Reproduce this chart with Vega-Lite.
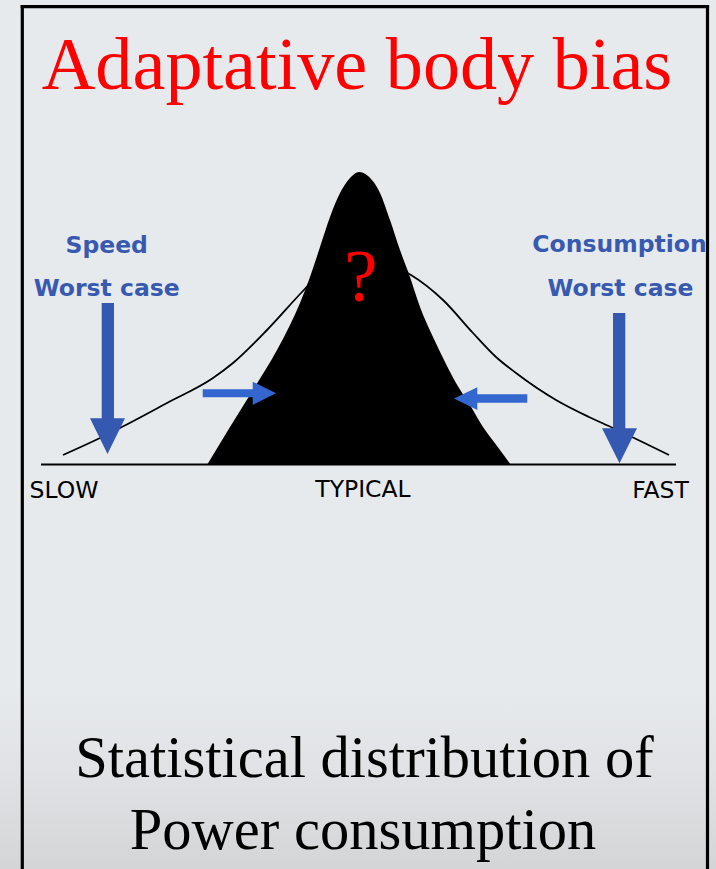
{
  "$schema": "https://vega.github.io/schema/vega-lite/v6.json",
  "width": 716,
  "height": 869,
  "autosize": {"type": "fit", "contains": "padding"},
  "padding": 0,
  "background": "#e7eaed",
  "config": {"view": {"stroke": null}},
  "datasets": {
    "backdrop": [{"x": 0, "x2": 716, "y": 690, "y2": 869}],
    "wide": [
      {"x": 63, "y": 455}, {"x": 100, "y": 438}, {"x": 120, "y": 428}, {"x": 167, "y": 403},
      {"x": 213, "y": 378}, {"x": 233, "y": 363}, {"x": 267, "y": 330}, {"x": 302, "y": 292},
      {"x": 330, "y": 264}, {"x": 357, "y": 256}, {"x": 385, "y": 263}, {"x": 411, "y": 275},
      {"x": 443, "y": 300}, {"x": 473, "y": 333}, {"x": 496, "y": 357}, {"x": 516, "y": 373},
      {"x": 556, "y": 400}, {"x": 589, "y": 417}, {"x": 613, "y": 428}, {"x": 669, "y": 455}
    ],
    "narrow": [
      {"x": 207, "y": 465}, {"x": 230, "y": 427}, {"x": 253, "y": 390}, {"x": 277, "y": 350},
      {"x": 290, "y": 325}, {"x": 300, "y": 303}, {"x": 310, "y": 277}, {"x": 320, "y": 247},
      {"x": 330, "y": 217}, {"x": 340, "y": 193}, {"x": 350, "y": 178}, {"x": 359, "y": 172},
      {"x": 368, "y": 176}, {"x": 380, "y": 193}, {"x": 390, "y": 220}, {"x": 400, "y": 250},
      {"x": 410, "y": 277}, {"x": 420, "y": 307}, {"x": 433, "y": 337}, {"x": 445, "y": 362},
      {"x": 456, "y": 383}, {"x": 470, "y": 405}, {"x": 483, "y": 427}, {"x": 497, "y": 446},
      {"x": 511, "y": 465}
    ],
    "axisline": [{"x": 41, "y": 464.5, "x2": 676, "y2": 464.5}],
    "shafts": [
      {"arrow": "speed", "kind": "big", "x": 101.7, "x2": 114, "y": 303, "y2": 419},
      {"arrow": "consumption", "kind": "big", "x": 613, "x2": 625.3, "y": 313, "y2": 429},
      {"arrow": "toRight", "kind": "small", "x": 202.7, "x2": 253.5, "y": 389.3, "y2": 397.3},
      {"arrow": "toLeft", "kind": "small", "x": 476.5, "x2": 527.3, "y": 394.3, "y2": 402.7}
    ],
    "downHeads": [
      {"arrow": "speed", "x": 90, "y": 418.3, "y2": 418.3},
      {"arrow": "speed", "x": 107.5, "y": 418.3, "y2": 454},
      {"arrow": "speed", "x": 125, "y": 418.3, "y2": 418.3},
      {"arrow": "consumption", "x": 602, "y": 428.3, "y2": 428.3},
      {"arrow": "consumption", "x": 619.5, "y": 428.3, "y2": 463.3},
      {"arrow": "consumption", "x": 637, "y": 428.3, "y2": 428.3}
    ],
    "sideHeads": [
      {"arrow": "toRight", "y": 381.7, "x": 252.7, "x2": 252.7},
      {"arrow": "toRight", "y": 393.3, "x": 252.7, "x2": 276},
      {"arrow": "toRight", "y": 405, "x": 252.7, "x2": 252.7},
      {"arrow": "toLeft", "y": 387.3, "x": 477.3, "x2": 477.3},
      {"arrow": "toLeft", "y": 398.5, "x": 454, "x2": 477.3},
      {"arrow": "toLeft", "y": 410, "x": 477.3, "x2": 477.3}
    ],
    "labels": [
      {"group": "title", "text": "Adaptative body bias", "x": 357, "y": 89},
      {"group": "mark", "text": "?", "x": 361, "y": 301},
      {"group": "blue", "text": "Speed", "x": 106.7, "y": 252.5},
      {"group": "blue", "text": "Worst case", "x": 106.7, "y": 296},
      {"group": "blue", "text": "Consumption", "x": 619.5, "y": 252},
      {"group": "blue", "text": "Worst case", "x": 620.5, "y": 296},
      {"group": "scale", "text": "SLOW", "x": 64, "y": 498},
      {"group": "scale", "text": "TYPICAL", "x": 363, "y": 497},
      {"group": "scale", "text": "FAST", "x": 660.5, "y": 498},
      {"group": "caption", "text": "Statistical distribution of", "x": 364.5, "y": 777},
      {"group": "caption", "text": "Power consumption", "x": 363, "y": 849}
    ],
    "frame": [
      {"side": "left", "x": 20.7, "x2": 23.9, "y": 5.1, "y2": 869},
      {"side": "top", "x": 20.7, "x2": 709.1, "y": 5.1, "y2": 8.3},
      {"side": "right", "x": 705.9, "x2": 709.1, "y": 5.1, "y2": 869}
    ]
  },
  "encoding": {
    "x": {"field": "x", "type": "quantitative", "scale": {"domain": [0, 716], "nice": false, "zero": false}, "axis": null},
    "y": {"field": "y", "type": "quantitative", "scale": {"domain": [0, 869], "reverse": true, "nice": false, "zero": false}, "axis": null}
  },
  "layer": [
    {
      "data": {"name": "backdrop"},
      "mark": {"type": "rect", "color": {"gradient": "linear", "x1": 0, "y1": 0, "x2": 0, "y2": 1, "stops": [{"offset": 0, "color": "#e7eaed"}, {"offset": 0.45, "color": "#e0e2e5"}, {"offset": 1, "color": "#d3d5d7"}]}},
      "encoding": {"x2": {"field": "x2"}, "y2": {"field": "y2"}}
    },
    {
      "data": {"name": "wide"},
      "mark": {"type": "line", "interpolate": "monotone", "color": "#000000", "strokeWidth": 1.8},
      "encoding": {}
    },
    {
      "data": {"name": "narrow"},
      "mark": {"type": "area", "interpolate": "monotone", "color": "#000000", "orient": "vertical"},
      "encoding": {"y2": {"datum": 465}}
    },
    {
      "data": {"name": "axisline"},
      "mark": {"type": "rule", "color": "#000000", "strokeWidth": 1.8},
      "encoding": {"x2": {"field": "x2"}, "y2": {"field": "y2"}}
    },
    {
      "data": {"name": "shafts"},
      "transform": [{"filter": "datum.kind === 'big'"}],
      "mark": {"type": "rect", "color": "#3558b0"},
      "encoding": {"x2": {"field": "x2"}, "y2": {"field": "y2"}}
    },
    {
      "data": {"name": "shafts"},
      "transform": [{"filter": "datum.kind === 'small'"}],
      "mark": {"type": "rect", "color": "#3366cf"},
      "encoding": {"x2": {"field": "x2"}, "y2": {"field": "y2"}}
    },
    {
      "data": {"name": "downHeads"},
      "mark": {"type": "area", "orient": "vertical", "color": "#3558b0"},
      "encoding": {"y2": {"field": "y2"}, "detail": {"field": "arrow"}}
    },
    {
      "data": {"name": "sideHeads"},
      "mark": {"type": "area", "orient": "horizontal", "color": "#3366cf"},
      "encoding": {"x2": {"field": "x2"}, "detail": {"field": "arrow"}}
    },
    {
      "data": {"name": "labels"},
      "transform": [{"filter": "datum.group === 'title'"}],
      "mark": {"type": "text", "font": "Liberation Serif", "fontSize": 74.2, "color": "#ff0000", "align": "center", "baseline": "alphabetic"},
      "encoding": {"text": {"field": "text"}}
    },
    {
      "data": {"name": "labels"},
      "transform": [{"filter": "datum.group === 'mark'"}],
      "mark": {"type": "text", "font": "Liberation Serif", "fontSize": 75, "color": "#ff0000", "align": "center", "baseline": "alphabetic"},
      "encoding": {"text": {"field": "text"}}
    },
    {
      "data": {"name": "labels"},
      "transform": [{"filter": "datum.group === 'blue'"}],
      "mark": {"type": "text", "font": "DejaVu Sans", "fontWeight": "bold", "fontSize": 23.5, "color": "#3759b0", "align": "center", "baseline": "alphabetic"},
      "encoding": {"text": {"field": "text"}}
    },
    {
      "data": {"name": "labels"},
      "transform": [{"filter": "datum.group === 'scale'"}],
      "mark": {"type": "text", "font": "DejaVu Sans", "fontSize": 23.5, "color": "#000000", "align": "center", "baseline": "alphabetic"},
      "encoding": {"text": {"field": "text"}}
    },
    {
      "data": {"name": "labels"},
      "transform": [{"filter": "datum.group === 'caption'"}],
      "mark": {"type": "text", "font": "Liberation Serif", "fontSize": 58.5, "color": "#000000", "align": "center", "baseline": "alphabetic"},
      "encoding": {"text": {"field": "text"}}
    },
    {
      "data": {"name": "frame"},
      "mark": {"type": "rect", "color": "#000000"},
      "encoding": {"x2": {"field": "x2"}, "y2": {"field": "y2"}}
    }
  ]
}
